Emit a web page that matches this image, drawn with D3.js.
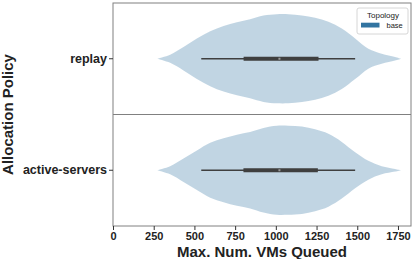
<!DOCTYPE html>
<html>
<head>
<meta charset="utf-8">
<script src="https://cdn.jsdelivr.net/npm/d3@7"></script>
<style>
html,body{margin:0;padding:0;background:#fff;}
svg{display:block;font-family:"Liberation Sans",Arial,Helvetica,sans-serif;}
</style>
</head>
<body>
<svg id="chart" width="415" height="259"></svg>
<script>
const policies = ["replay", "active-servers"];
const xTicks = [0, 250, 500, 750, 1000, 1250, 1500, 1750];
const xTickLabels = ["0", "250", "500", "750", "1000", "1250", "1500", "1750"];
const gridValues = [270, 351, 433, 515, 597, 679, 761, 842, 924, 1006, 1077, 1160, 1241, 1323, 1405, 1487, 1568, 1650, 1732, 1769];
const replayDensity = [0, 0.09, 0.26, 0.45, 0.61, 0.73, 0.81, 0.88, 0.96, 0.99, 0.99, 0.96, 0.91, 0.82, 0.67, 0.45, 0.22, 0.11, 0.04, 0];
const activeDensity = [0, 0.09, 0.26, 0.44, 0.61, 0.71, 0.79, 0.85, 0.94, 0.99, 0.99, 0.97, 0.91, 0.81, 0.63, 0.40, 0.21, 0.09, 0.03, 0];
const whiskerLow = [542, 542];
const q1 = [802, 801];
const medians = [1022, 1022];
const q3 = [1262, 1258];
const whiskerHigh = [1487, 1487];
const legendTitle = "Topology";
const legendLabels = ["base"];

const densities = [replayDensity, activeDensity];
const svg = d3.select("#chart");
const L = 113, R = 411, T = 3, B = 226;

const x = d3.scaleLinear().domain([0, 1830]).range([L, R]);
const y = d3.scaleBand().domain(policies).range([T, B]);
const w = d3.scaleLinear().domain([0, 1]).range([0, 45]);
const mainColor = "#3274a1";

// violins
policies.forEach((p, i) => {
  const cy = y(p) + y.bandwidth() / 2;
  const pts = gridValues.map((v, j) => ({v, d: densities[i][j]}));
  const area = d3.area()
    .x(d => x(d.v))
    .y0(d => cy - w(d.d))
    .y1(d => cy + w(d.d))
    .curve(d3.curveCatmullRom);
  svg.append("path").datum(pts).attr("d", area)
    .attr("fill", mainColor).attr("fill-opacity", 0.3).attr("stroke", "none");
  // whisker
  svg.append("line").attr("x1", x(whiskerLow[i])).attr("x2", x(whiskerHigh[i]))
    .attr("y1", cy).attr("y2", cy).attr("stroke", "#3f3f3f").attr("stroke-width", 1.5);
  // box
  svg.append("rect").attr("x", x(q1[i])).attr("width", x(q3[i]) - x(q1[i]))
    .attr("y", cy - 2).attr("height", 4).attr("fill", "#3f3f3f");
  // median
  svg.append("rect").attr("x", x(medians[i]) - 1).attr("y", cy - 1)
    .attr("width", 2).attr("height", 2).attr("fill", "#9a9a9a");
});

// separator between facets
svg.append("line").attr("x1", L).attr("x2", R)
  .attr("y1", y(policies[1])).attr("y2", y(policies[1]))
  .attr("stroke", "#808080").attr("stroke-width", 1);

// frame
svg.append("rect").attr("x", L).attr("y", T).attr("width", R - L).attr("height", B - T)
  .attr("fill", "none").attr("stroke", "#808080").attr("stroke-width", 1);

// x axis
const xAxis = d3.axisBottom(x).tickValues(xTicks).tickFormat((d, i) => xTickLabels[i])
  .tickSize(4).tickPadding(2);
const gx = svg.append("g").attr("transform", `translate(0,${B})`).call(xAxis);
gx.select(".domain").remove();
gx.selectAll(".tick line").attr("stroke", "#333");
gx.selectAll(".tick text").attr("font-size", 11).attr("font-weight", "bold").attr("fill", "#222")
  .attr("font-family", "'Liberation Sans',Arial,sans-serif");

// y axis
const yAxis = d3.axisLeft(y).tickSize(4).tickPadding(2);
const gy = svg.append("g").attr("transform", `translate(${L},0)`).call(yAxis);
gy.select(".domain").remove();
gy.selectAll(".tick line").attr("stroke", "#333");
gy.selectAll(".tick text").attr("font-size", 12.5).attr("font-weight", "bold").attr("fill", "#222")
  .attr("font-family", "'Liberation Sans',Arial,sans-serif");

// axis titles
svg.append("text").attr("x", (L + R) / 2).attr("y", 256.5).attr("text-anchor", "middle")
  .attr("font-size", 15).attr("font-weight", "bold").attr("fill", "#222")
  .text("Max. Num. VMs Queued");
svg.append("text").attr("transform", `translate(12.5,${(T + B) / 2}) rotate(-90)`)
  .attr("text-anchor", "middle").attr("font-size", 15).attr("font-weight", "bold").attr("fill", "#222")
  .text("Allocation Policy");

// legend
const lg = svg.append("g");
lg.append("rect").attr("x", 357).attr("y", 8).attr("width", 51).attr("height", 26)
  .attr("rx", 2).attr("fill", "#fff").attr("stroke", "#cccccc").attr("stroke-width", 0.8);
lg.append("text").attr("x", 383).attr("y", 17.5).attr("text-anchor", "middle")
  .attr("font-size", 8).attr("fill", "#222").text(legendTitle);
legendLabels.forEach((lab, i) => {
  lg.append("rect").attr("x", 361).attr("y", 22.7 + i * 10).attr("width", 18.5).attr("height", 4.8)
    .attr("fill", mainColor);
  lg.append("text").attr("x", 386.5).attr("y", 28.3 + i * 10).attr("font-size", 7.5)
    .attr("fill", "#222").text(lab);
});
</script>
</body>
</html>
